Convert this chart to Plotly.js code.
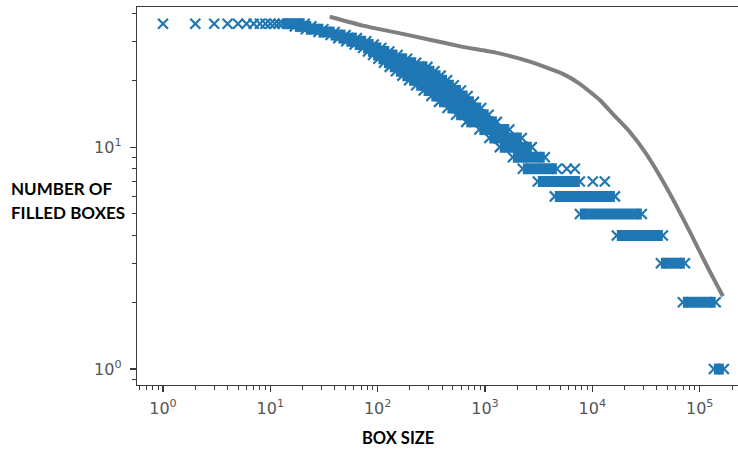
<!DOCTYPE html>
<html>
<head>
<meta charset="utf-8">
<script src="https://cdn.plot.ly/plotly-3.0.1.min.js"></script>
<style>
html,body{margin:0;padding:0;overflow:hidden;background:#fff;}
#chart{width:750px;height:449px;}
</style>
</head>
<body>
<div id="chart"></div>
<script>
// Individual box sizes at small scale (each visible as a separate marker)
const discreteSize = [1,2,3,4,5,6,7,8,9,10,11,12];
const discreteCount = [36,36,36,36,36,36,36,36,36,36,36,36];

// Bands of constant "number of filled boxes": count, first and last box size
const bandCount = [36,35,34,33,32,31,30,29,28,27,26,25,24,23,22,21,20,19,18,17,16,15,14,13,12,11,10,9,8,7,6,5,4,3,2,1];
const bandStart = [13,16.9,21.4,28.1,36.4,43,51,61,73.1,81.2,90.6,101.7,114.5,129.6,147.8,169.9,196.2,228.5,267.8,315.9,372.6,446.4,538,668,885,1097,1374,1817,2250,3104,4470,7650,16900,43500,69700,135500];
const bandEnd = [20.9,24.1,31.2,39.8,50.2,64,78.2,91.8,108.1,128.3,153.3,188.4,228.5,291,338,386,443,513,597,689,789,922,1081,1289,1684,2203,2729,3606,4670,7650,16230,28900,45400,72800,141000,167900];

// Isolated points beyond band ends
const outlierSize = [5780,6870,10100,13060];
const outlierCount = [8,8,7,7];

// Grey reference curve
const curveSize = [35.8,72.6,150.6,305.8,620,1288,2614,5307,7640,11740,16210,22360,30860,42570,58740,81050,111800,138600,164600];
const curveCount = [38.7,35.3,32.8,30.5,28.3,26.6,24.3,21.4,19.3,16.3,13.8,11.7,9.52,7.42,5.61,4.15,3.04,2.49,2.13];

// Axis ticks
const xTickVals = [1,10,100,1000,10000,100000];
const xTickText = ['10<sup>0</sup>','10<sup>1</sup>','10<sup>2</sup>','10<sup>3</sup>','10<sup>4</sup>','10<sup>5</sup>'];
const yTickVals = [1,10];
const yTickText = ['10<sup>0</sup>','10<sup>1</sup>'];

const blue = '#1f77b4';

function minorTicks(lo, hi){
  const v = [];
  for (let e = lo; e <= hi; e++) for (let m = 2; m <= 9; m++) v.push(m*Math.pow(10,e));
  return v;
}

// band segments
const bx = [], by = [];
bandCount.forEach((n,i)=>{ bx.push(bandStart[i], bandEnd[i], null); by.push(n, n, null); });
// markers: discrete, band ends, outliers
const mx = [], my = [];
discreteSize.forEach((s,i)=>{ mx.push(s); my.push(discreteCount[i]); });
bandCount.forEach((n,i)=>{ mx.push(bandStart[i], bandEnd[i]); my.push(n, n); });
outlierSize.forEach((s,i)=>{ mx.push(s); my.push(outlierCount[i]); });

const traces = [
  {x: bx, y: by, mode: 'lines', line: {color: blue, width: 11}, hoverinfo: 'skip', showlegend: false},
  {x: mx, y: my, mode: 'markers', marker: {symbol: 'x-thin', size: 10, color: blue, line: {width: 2.2, color: blue}}, showlegend: false},
  {x: curveSize, y: curveCount, mode: 'lines', line: {color: '#7f7f7f', width: 4, shape: 'spline', smoothing: 0.4}, showlegend: false}
];

const axisCommon = {
  type: 'log', showgrid: false, zeroline: false,
  showline: true, mirror: true, linecolor: '#3a3a3a', linewidth: 1.3,
  ticks: 'outside', ticklen: 6, tickwidth: 1.2, tickcolor: '#3a3a3a',
  tickfont: {family: 'DejaVu Sans', size: 16, color: '#555'},
  tickmode: 'array'
};

const layout = {
  width: 750, height: 449,
  margin: {l: 137, r: 2, t: 7, b: 64},
  paper_bgcolor: '#fff', plot_bgcolor: '#fff',
  xaxis: Object.assign({}, axisCommon, {
    range: [-0.242, 5.45], tickvals: xTickVals, ticktext: xTickText, ticklabelstandoff: 2,
    minor: {tickmode: 'array', tickvals: minorTicks(-1, 5), ticks: 'outside', ticklen: 3.5, tickwidth: 1, tickcolor: '#3a3a3a', showgrid: false}
  }),
  yaxis: Object.assign({}, axisCommon, {
    range: [-0.0717, 1.6315], tickvals: yTickVals, ticktext: yTickText, ticklabelstandoff: 5,
    minor: {tickmode: 'array', tickvals: minorTicks(-1, 1), ticks: 'outside', ticklen: 3.5, tickwidth: 1, tickcolor: '#3a3a3a', showgrid: false}
  }),
  annotations: [
    {text: '<b>BOX SIZE</b>', xref: 'paper', yref: 'paper', x: 0.427, y: -0.140, xanchor: 'center', yanchor: 'middle', showarrow: false, font: {family: 'Lato', size: 16.5, color: '#000'}},
    {text: '<b>NUMBER OF</b>', xref: 'paper', yref: 'paper', x: -0.21, y: 0.520, xanchor: 'left', yanchor: 'middle', showarrow: false, font: {family: 'Lato', size: 17, color: '#000'}},
    {text: '<b>FILLED BOXES</b>', xref: 'paper', yref: 'paper', x: -0.21, y: 0.456, xanchor: 'left', yanchor: 'middle', showarrow: false, font: {family: 'Lato', size: 17, color: '#000'}}
  ]
};

Plotly.newPlot('chart', traces, layout, {displayModeBar: false, staticPlot: true});
</script>
</body>
</html>
